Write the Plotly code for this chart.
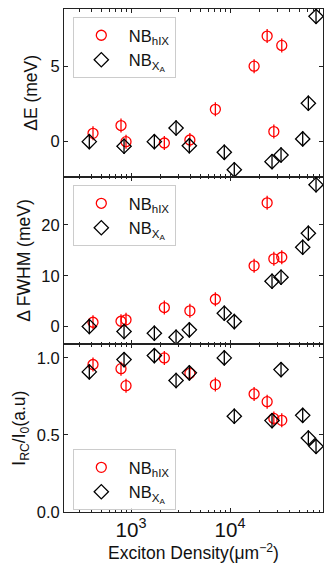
import plotly.graph_objects as go
from plotly.subplots import make_subplots

# exciton density (um^-2)
x_hix = [413, 792, 890, 2170, 3930, 7110, 17500, 23700, 27700, 33300]
x_xa = [379, 850, 1720, 2850, 3880, 8750, 11040, 26550, 32740, 54200, 61800, 73900]

# energy shift (meV)
de_hix = [0.55, 1.07, 0.0, -0.09, 0.11, 2.15, 5.02, 7.02, 0.67, 6.4]
de_xa = [0.0, -0.31, 0.0, 0.91, -0.27, -0.71, -1.87, -1.33, -0.89, 0.18, 2.55, 8.33]

# linewidth change (meV)
fwhm_hix = [0.85, 1.04, 1.32, 3.74, 3.09, 5.37, 11.95, 24.35, 13.33, 13.64]
fwhm_xa = [0.0, -0.98, -1.32, -2.1, -0.65, 2.62, 0.98, 8.92, 9.7, 15.6, 18.37, 27.9]

# normalised intensity
irc_hix = [0.957, 0.93, 0.82, 1.0, 0.90, 0.827, 0.766, 0.716, 0.607, 0.595]
irc_xa = [0.909, 0.989, 1.015, 0.853, 0.903, 1.0, 0.621, 0.593, 0.924, 0.627, 0.48, 0.426]

name_hix = "NB<sub>hIX</sub>"
name_xa = "NB<sub>X<sub>A</sub></sub>"

FONT = "Liberation Sans, Arial, sans-serif"

fig = make_subplots(rows=3, cols=1, shared_xaxes=True, vertical_spacing=0)

panels = [(de_hix, de_xa, "legend"),
          (fwhm_hix, fwhm_xa, "legend2"),
          (irc_hix, irc_xa, "legend3")]

for row, (yh, yx, leg) in enumerate(panels, start=1):
    fig.add_trace(go.Scatter(x=x_hix, y=yh, mode="markers", name=name_hix, legend=leg,
                             marker=dict(symbol="circle-open", size=10, color="red",
                                         line=dict(width=1.3, color="red"))), row=row, col=1)
    fig.add_trace(go.Scatter(x=x_hix, y=yh, mode="markers", showlegend=False, hoverinfo="skip",
                             marker=dict(symbol="line-ns", size=10, color="red",
                                         line=dict(width=1.3, color="red"))), row=row, col=1)
    fig.add_trace(go.Scatter(x=x_xa, y=yx, mode="markers", name=name_xa, legend=leg,
                             marker=dict(symbol="diamond-open", size=11, color="black",
                                         line=dict(width=1.3, color="black"))), row=row, col=1)
    fig.add_trace(go.Scatter(x=x_xa, y=yx, mode="markers", showlegend=False, hoverinfo="skip",
                             marker=dict(symbol="line-ns", size=11, color="black",
                                         line=dict(width=1.3, color="black"))), row=row, col=1)

axis_style = dict(showline=True, mirror="ticks", linecolor="#222", linewidth=1,
                  ticks="inside", ticklen=4, tickcolor="#222", showgrid=False, zeroline=False,
                  automargin=False, tickfont=dict(size=16.5, color="#111"))

for row in (1, 2, 3):
    fig.update_xaxes(type="log", range=[2.323, 4.939], dtick=1, exponentformat="power",
                     minor=dict(ticks="inside", ticklen=2.5, tickcolor="#222", dtick="D1"),
                     row=row, col=1, **axis_style)

fig.update_xaxes(title=dict(text="Exciton Density(μm<sup>−2</sup>)", font=dict(size=17.5), standoff=6),
                 row=3, col=1)

fig.update_yaxes(range=[-2.33, 8.82], tickvals=[0, 5], row=1, col=1,
                 title=dict(text="ΔE (meV)", font=dict(size=17.5), standoff=8), **axis_style)
fig.update_yaxes(range=[-3.5, 29.5], tickvals=[0, 10, 20], row=2, col=1,
                 title=dict(text="Δ FWHM (meV)", font=dict(size=17.5), standoff=6), **axis_style)
fig.update_yaxes(range=[0, 1.088], tickvals=[0, 0.5, 1.0], tickformat=".1f", row=3, col=1,
                 title=dict(text="I<sub>RC</sub>/I<sub>0</sub>(a.u)", font=dict(size=17.5), standoff=6),
                 **axis_style)

legend_style = dict(xanchor="left", yanchor="top", bordercolor="#cccccc", borderwidth=1,
                    bgcolor="rgba(255,255,255,0.8)", font=dict(size=16.5, color="#111"),
                    itemwidth=45)

# page body keeps its default 8px margin, so the figure is 16px smaller than the window
fig.update_layout(
    width=316, height=562,
    margin=dict(l=56, r=1, t=1, b=58),
    plot_bgcolor="white", paper_bgcolor="white",
    font=dict(family=FONT, size=16.5, color="#111"),
    legend=dict(x=0.034, y=0.984, **legend_style),
    legend2=dict(x=0.034, y=0.650, **legend_style),
    legend3=dict(x=0.034, y=0.125, **legend_style),
)

fig.write_html("out.html")
